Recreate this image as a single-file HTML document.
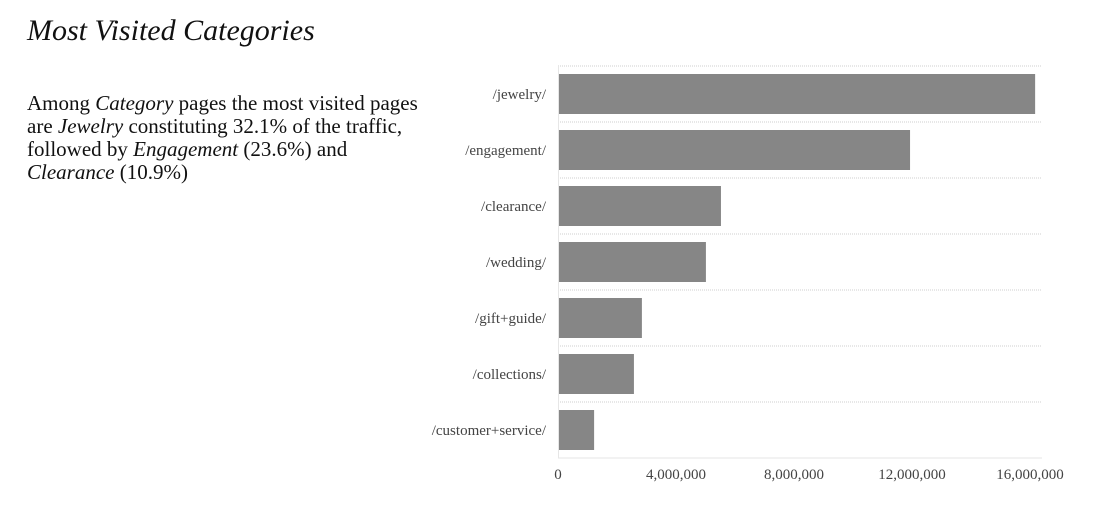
<!DOCTYPE html>
<html><head><meta charset="utf-8"><style>
body{margin:0;background:#fff;width:1104px;height:522px;overflow:hidden;font-family:"Liberation Serif",serif;color:#111}
h1{position:absolute;left:27px;top:14px;margin:0;font-size:30px;font-weight:normal;font-style:italic}
p{position:absolute;left:27px;top:92px;margin:0;font-size:21px;line-height:23px;width:410px}
svg{position:absolute;left:0;top:0}
</style></head><body>
<h1>Most Visited Categories</h1>
<p>Among <i>Category</i> pages the most visited pages are <i>Jewelry</i> constituting 32.1% of the traffic, followed by <i>Engagement</i> (23.6%) and <i>Clearance</i> (10.9%)</p>
<svg id="c" width="1104" height="522"></svg>
<script>
const categories=["/jewelry/","/engagement/","/clearance/","/wedding/","/gift+guide/","/collections/","/customer+service/"];
const values=[16140000,11900000,5490000,4980000,2810000,2540000,1190000];
const ticks=[0,4000000,8000000,12000000,16000000];
const tickLabels=["0","4,000,000","8,000,000","12,000,000","16,000,000"];
const svg=document.getElementById('c');const NS="http://www.w3.org/2000/svg";
const x0=559,xs=118/4000000,top0=66,rowH=56;
const x=v=>x0+v*xs;
function mk(t,a){const e=document.createElementNS(NS,t);for(const k in a)e.setAttribute(k,a[k]);svg.appendChild(e);return e;}
for(let i=0;i<=categories.length;i++){
const l=mk('line',{x1:558,x2:1042,y1:top0+i*rowH,y2:top0+i*rowH,stroke:i==categories.length?'#e6e6e6':'#cfcfcf','stroke-dasharray':i==categories.length?'':'1,1'});

}
const ax=mk('line',{x1:558.5,x2:558.5,y1:top0,y2:top0+categories.length*rowH,stroke:'#e6e6e6'});


categories.forEach((c,i)=>{
const y=top0+i*rowH;
const r=mk('rect',{x:x0,y:y+8,width:x(values[i])-x0,height:40,fill:'#868686'});


const t=mk('text',{x:546,y:y+33,'text-anchor':'end','font-size':'15','fill':'#444','font-family':'Liberation Serif,serif'});
t.textContent=c;


});
ticks.forEach((v,i)=>{
const t=mk('text',{x:x(v)-1,y:479,'text-anchor':'middle','font-size':'15','fill':'#444','font-family':'Liberation Serif,serif'});
t.textContent=tickLabels[i];


});
</script>
</body></html>
